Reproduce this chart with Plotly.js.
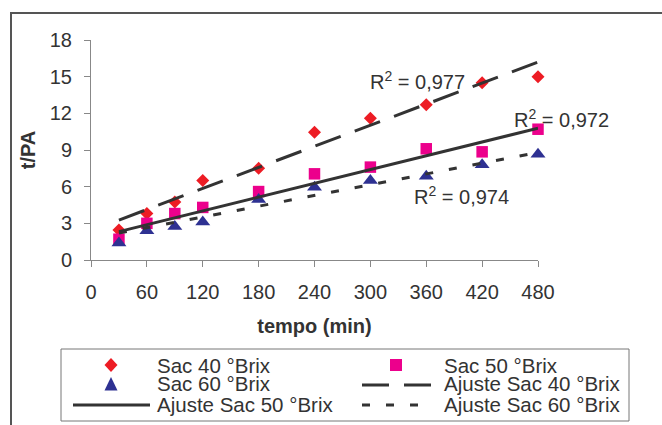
<!DOCTYPE html>
<html>
<head>
<meta charset="utf-8">
<script src="https://cdn.plot.ly/plotly-3.0.1.min.js"></script>
<style>html,body{margin:0;padding:0;background:#fff;}#chart{width:662px;height:425px;}</style>
</head>
<body>
<div id="chart"></div>
<script>
const tempo = [30, 60, 90, 120, 180, 240, 300, 360, 420, 480];
const sac40 = [2.45, 3.8, 4.75, 6.5, 7.5, 10.45, 11.6, 12.7, 14.5, 15.0];
const sac50 = [1.7, 3.0, 3.8, 4.3, 5.6, 7.05, 7.6, 9.1, 8.85, 10.7];
const sac60 = [1.4, 2.4, 2.75, 3.1, 4.95, 5.95, 6.5, 6.85, 7.8, 8.65];
const fitX = [30, 480];
const fit40 = [3.27, 16.2];
const fit50 = [2.32, 10.78];
const fit60 = [2.2, 8.8];
const names = ["Sac 40 °Brix", "Sac 50 °Brix", "Sac 60 °Brix", "Ajuste Sac 40 °Brix", "Ajuste Sac 50 °Brix", "Ajuste Sac 60 °Brix"];
const r2Labels = ["R<sup>2</sup> = 0,977", "R<sup>2</sup> = 0,972", "R<sup>2</sup> = 0,974"];
const r2X = [297, 452, 345];
const r2Y = [14.7, 11.6, 5.3];
const xTicks = [0, 60, 120, 180, 240, 300, 360, 420, 480];
const yTicks = [0, 3, 6, 9, 12, 15, 18];

const W = 662, H = 425;
const M = {l: 91, r: 124, t: 40, b: 165};
const PW = W - M.l - M.r, PH = H - M.t - M.b;
const px = v => (v - M.l) / PW;          // pixel x -> paper x
const py = v => (H - M.b - v) / PH;      // pixel y -> paper y

const lineCol = '#333333';
const red = '#ed1c24', pink = '#ec008c', navy = '#2e3192';
const dashLong = '27px,15px', dashShort = '8px,16px';

const traces = [
  {x: tempo, y: sac40, name: names[0], mode: 'markers', type: 'scatter', cliponaxis: false,
   marker: {symbol: 'diamond', size: 10, color: red}},
  {x: tempo, y: sac50, name: names[1], mode: 'markers', type: 'scatter', cliponaxis: false,
   marker: {symbol: 'square', size: 11.5, color: pink}},
  {x: tempo, y: sac60, name: names[2], mode: 'markers', type: 'scatter', cliponaxis: false,
   marker: {symbol: 'triangle-up', size: 13, color: navy}},
  {x: fitX, y: fit40, name: names[3], mode: 'lines', type: 'scatter', cliponaxis: false,
   line: {color: lineCol, width: 3, dash: dashLong}},
  {x: fitX, y: fit50, name: names[4], mode: 'lines', type: 'scatter', cliponaxis: false,
   line: {color: lineCol, width: 3}},
  {x: fitX, y: fit60, name: names[5], mode: 'lines', type: 'scatter', cliponaxis: false,
   line: {color: lineCol, width: 3, dash: dashShort}}
];

const annotations = r2Labels.map((t, i) => ({
  x: r2X[i], y: r2Y[i], xref: 'x', yref: 'y', text: t, showarrow: false,
  xanchor: 'left', yanchor: 'middle', font: {size: 20, color: '#333'}
}));

// manual legend (2 columns x 3 rows, Excel style)
const legCols = [0, 1, 0, 1, 0, 1];
const legRows = [0, 0, 1, 1, 2, 2];
const rowY = [365, 384, 404];
const textX = [155, 442];
const symX = [111, 396];
const lineX = [[73, 150], [362, 433]];
names.forEach((n, i) => {
  annotations.push({x: px(textX[legCols[i]]), y: py(rowY[legRows[i]]), xref: 'paper', yref: 'paper',
    text: n, showarrow: false, xanchor: 'left', yanchor: 'middle', font: {size: 20.5, color: '#333'}});
});
const shapes = [
  {type: 'rect', xref: 'paper', yref: 'paper', x0: px(11), x1: px(700), y0: py(470), y1: py(13),
   line: {color: '#555', width: 2}, fillcolor: 'rgba(0,0,0,0)', layer: 'below'},
  {type: 'rect', xref: 'paper', yref: 'paper', x0: px(61), x1: px(629), y0: py(421), y1: py(349),
   line: {color: '#777', width: 1}, fillcolor: 'rgba(0,0,0,0)'}
];
const symPaths = [
  'M -6.5 0 L 0 7 L 6.5 0 L 0 -7 Z',
  'M -6 -6 L 6 -6 L 6 6 L -6 6 Z',
  'M -6.5 -6.5 L 6.5 -6.5 L 0 7 Z'
];
const symColors = [red, pink, navy];
const lineDash = [dashLong, 'solid', dashShort];
names.forEach((n, i) => {
  const c = legCols[i], r = legRows[i];
  if (i < 3) {
    shapes.push({type: 'path', xref: 'paper', yref: 'paper', xsizemode: 'pixel', ysizemode: 'pixel',
      xanchor: px(symX[c]), yanchor: py(rowY[r]), path: symPaths[i],
      fillcolor: symColors[i], line: {width: 0}});
  } else {
    shapes.push({type: 'line', xref: 'paper', yref: 'paper',
      x0: px(lineX[c][0]), x1: px(lineX[c][1]), y0: py(rowY[r] + 1), y1: py(rowY[r] + 1),
      line: {color: lineCol, width: 3, dash: lineDash[i - 3]}});
  }
});

const layout = {
  width: W, height: H,
  margin: {l: M.l, r: M.r, t: M.t, b: M.b, autoexpand: false},
  paper_bgcolor: '#fff', plot_bgcolor: '#fff',
  font: {family: 'Liberation Sans, Arial, sans-serif', color: '#333', size: 20},
  showlegend: false,
  xaxis: {
    range: [0, 480], tickvals: xTicks, ticks: 'outside', ticklen: 6, tickcolor: '#888',
    showgrid: false, zeroline: false, showline: true, linecolor: '#888', linewidth: 1,
    tickfont: {size: 20, color: '#333'}, ticklabelstandoff: 8,
    title: {text: '<b>tempo (min)</b>', font: {size: 20, color: '#333'}, standoff: 16}
  },
  yaxis: {
    range: [0, 18], tickvals: yTicks, ticks: 'outside', ticklen: 6, tickcolor: '#888',
    showgrid: false, zeroline: false, showline: true, linecolor: '#888', linewidth: 1,
    tickfont: {size: 20, color: '#333'}, ticklabelstandoff: 8,
    title: {text: '<b>t/PA</b>', font: {size: 20, color: '#333'}, standoff: 8}
  },
  annotations: annotations,
  shapes: shapes
};

Plotly.newPlot('chart', traces, layout, {displayModeBar: false, staticPlot: true});
</script>
</body>
</html>
